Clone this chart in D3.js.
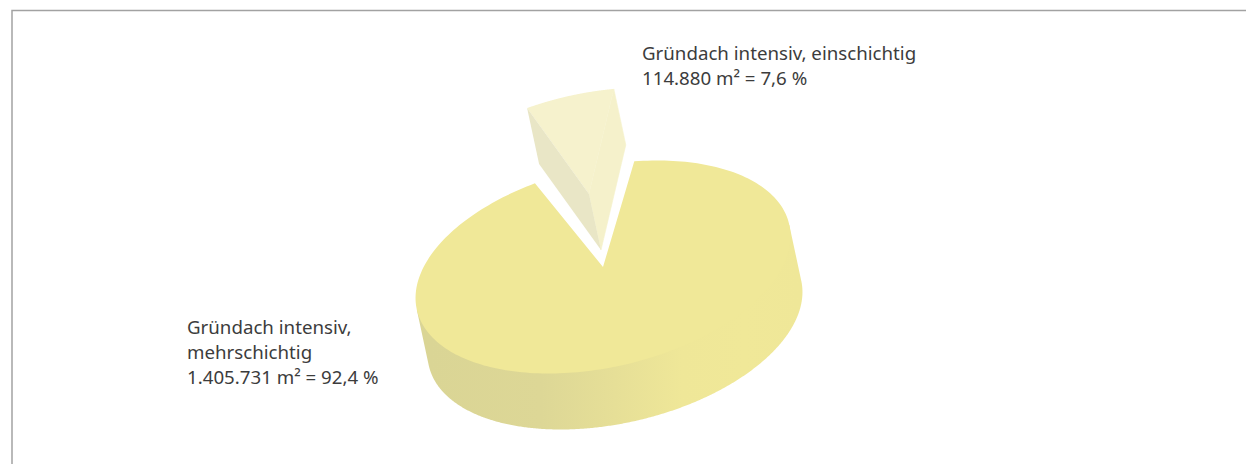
<!DOCTYPE html>
<html lang="de">
<head>
<meta charset="utf-8">
<title>Gründach intensiv</title>
<script src="https://cdn.jsdelivr.net/npm/d3@7/dist/d3.min.js"></script>
<style>
  html, body { margin: 0; padding: 0; background: #fff; }
  svg { display: block; }
  text { font-family: "Noto Sans", Lato, sans-serif; font-size: 18.7px; fill: #3c3c3c; }
</style>
</head>
<body>
<svg id="chart" width="1246" height="464"></svg>
<script>
// Flächenanteile der Gründacharten in m²
const categories = ["Gründach intensiv, mehrschichtig", "Gründach intensiv, einschichtig"];
const areas = [1405731, 114880];
const labelLines = [
  ["Gründach intensiv,", "mehrschichtig", "1.405.731 m² = 92,4 %"],
  ["Gründach intensiv, einschichtig", "114.880 m² = 7,6 %"]
];

const svg = d3.select("#chart");

// Open frame: a rule along the top and down the left side
const frame = { left: 12, top: 10.5, right: 1246 };
svg.append("path")
  .attr("d", `M${frame.left},464V${frame.top}H${frame.right}`)
  .attr("fill", "none").attr("stroke", "#a2a2a2").attr("stroke-width", 1.5);

// Tilted disc: unit circle -> ellipse, plus a depth vector for the extrusion
const disc = { cx: 603, cy: 267, a: 191, b: 100, tilt: 13 * Math.PI / 180 };
const depth = { x: 12, y: 56 };
const explode = { x: -14, y: -73 };
const startRotation = 15.5 * Math.PI / 180;
const sliceGap = 2 * Math.PI / 180;

function project(angle, radius = 1, shift = { x: 0, y: 0 }) {
  const u = Math.sin(angle) * radius * disc.a;
  const v = -Math.cos(angle) * radius * disc.b;
  return [
    disc.cx + u * Math.cos(disc.tilt) + v * Math.sin(disc.tilt) + shift.x,
    disc.cy - u * Math.sin(disc.tilt) + v * Math.cos(disc.tilt) + shift.y
  ];
}

const pie = d3.pie().sort(null)
  .startAngle(startRotation)
  .endAngle(startRotation + 2 * Math.PI)
  .padAngle(sliceGap);
const [mainSlice, sideSlice] = pie(areas);
const span = d => [d.startAngle + d.padAngle / 2, d.endAngle - d.padAngle / 2];

const line = d3.line();
const rim = (a0, a1, shift) =>
  d3.range(0, 241).map(i => project(a0 + (a1 - a0) * i / 240, 1, shift));
const apex = shift => project(0, 0, shift);
const add = (s, t) => ({ x: s.x + t.x, y: s.y + t.y });
const none = { x: 0, y: 0 };

// Shading along the outer wall of the large slice
const defs = svg.append("defs");
const wallGradient = defs.append("linearGradient")
  .attr("id", "wallShade").attr("gradientUnits", "userSpaceOnUse")
  .attr("x1", 430).attr("x2", 800).attr("y1", 0).attr("y2", 0);
[[0, "#dad595"], [0.3, "#ddd796"], [0.5, "#e6df97"], [0.68, "#efe798"], [0.85, "#f0e898"], [1, "#efe798"]]
  .forEach(([o, c]) => wallGradient.append("stop").attr("offset", o).attr("stop-color", c));

// Outer wall: the part of the rim facing the viewer; its upper edge runs under the top face
const [a0, a1] = span(mainSlice);
const facing = d3.range(0, 721).map(i => a0 + (a1 - a0) * i / 720).filter(t => {
  const p = project(t), q = project(t + 0.001);
  return (q[0] - p[0]) * depth.y - (q[1] - p[1]) * depth.x < 0;
});
const wallTop = [
  project(facing[0]),
  ...facing.slice(1, -1).map(t => project(t, 0.97)),
  project(facing[facing.length - 1])
];
const wallBottom = facing.map(t => project(t, 1, depth)).reverse();
svg.append("path")
  .attr("d", line([...wallTop, ...wallBottom]) + "Z")
  .attr("fill", "url(#wallShade)");

// Top face of the large slice
svg.append("path")
  .attr("d", line([apex(none), ...rim(a0, a1, none)]) + "Z")
  .attr("fill", "#f0e898");

// Pulled-out slice: the clockwise end of the slice shows its cut face on the left
const [b0, b1] = span(sideSlice);
const low = add(explode, depth);
const leftFace = [project(b0, 1, explode), apex(explode), apex(low), project(b0, 1, low)];
const rightFace = [project(b1, 1, explode), apex(explode), apex(low), project(b1, 1, low)];
svg.append("path").attr("d", line(rightFace) + "Z")
  .attr("fill", "#f5f1cb").attr("stroke", "#f5f1cb").attr("stroke-width", 0.6);
svg.append("path")
  .attr("d", line([apex(explode), ...rim(b0, b1, explode)]) + "Z")
  .attr("fill", "#f6f2cd");
svg.append("path").attr("d", line(leftFace) + "Z").attr("fill", "#e9e6c6");

// Labels
const labelAnchors = [[187, 334], [642, 59.5]];
const lineStep = 25;
svg.selectAll("text.label").data(labelLines).join("text")
  .attr("class", "label")
  .attr("aria-label", (d, i) => categories[i])
  .attr("transform", (d, i) => `translate(${labelAnchors[i]})`)
  .selectAll("tspan").data(d => d).join("tspan")
  .attr("x", 0).attr("y", (d, i) => i * lineStep)
  .text(d => d);
</script>
</body>
</html>
